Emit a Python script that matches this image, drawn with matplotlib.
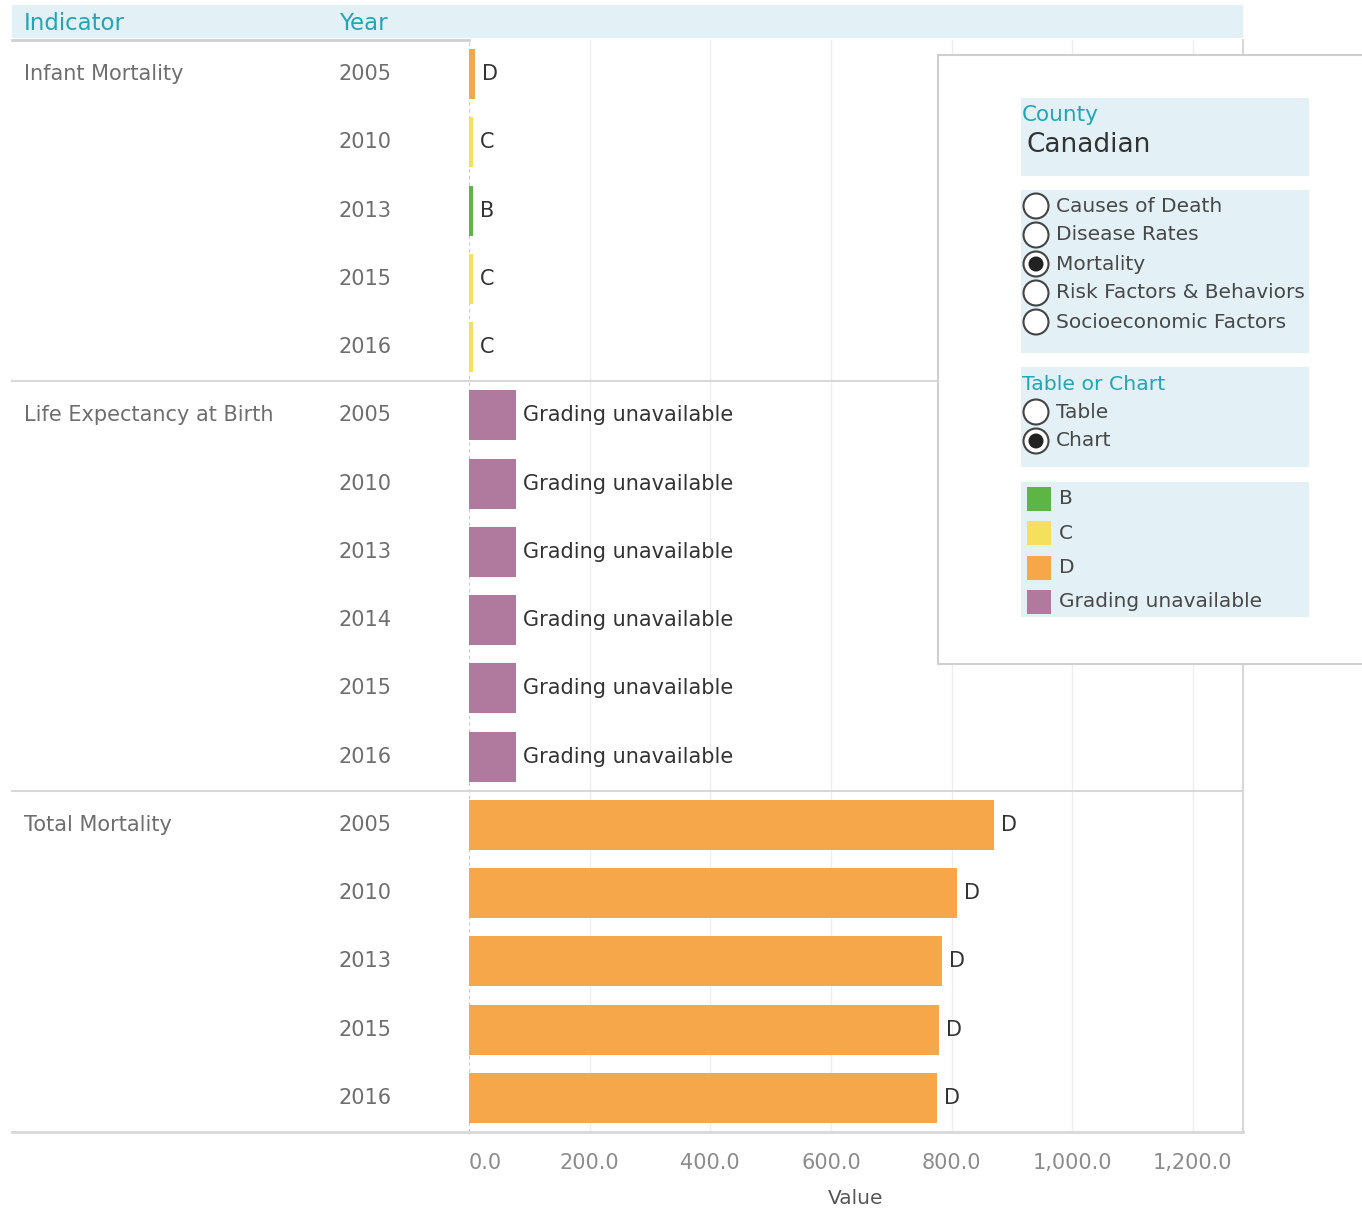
import matplotlib
matplotlib.use("Agg")
import matplotlib.pyplot as plt
import matplotlib.transforms as mtransforms
from matplotlib.patches import Rectangle, Circle
from matplotlib.ticker import FuncFormatter

# data
indicators = ["Infant Mortality", "Life Expectancy at Birth", "Total Mortality"]
years = [
    [2005, 2010, 2013, 2015, 2016],
    [2005, 2010, 2013, 2014, 2015, 2016],
    [2005, 2010, 2013, 2015, 2016],
]
values = [
    [9.6, 6.4, 6.2, 6.4, 6.3],
    [77.9, 77.9, 78.0, 78.1, 78.2, 78.3],
    [870.0, 809.0, 784.0, 779.0, 776.0],
]
grades = [
    ["D", "C", "B", "C", "C"],
    ["Grading unavailable"] * 6,
    ["D"] * 5,
]
grade_colors = {"B": "#5db546", "C": "#f4e05c", "D": "#f6a74a",
                "Grading unavailable": "#b07a9f"}
legend_grades = ["B", "C", "D", "Grading unavailable"]
sections = ["Causes of Death", "Disease Rates", "Mortality",
            "Risk Factors & Behaviors", "Socioeconomic Factors"]
selected_section = "Mortality"
views = ["Table", "Chart"]
selected_view = "Chart"
county = "Canadian"
xticks = [0, 200, 400, 600, 800, 1000, 1200]

W, H = 1362, 1208
TEAL = "#22a5b6"
BAND = "#e3f1f6"
GRAY_TXT = "#6e6e6e"
DARK_TXT = "#333333"
LINE = "#d8d8d8"


def fx(px):
    return px / W


fig = plt.figure(figsize=(W / 100, H / 100), dpi=100)
ax = fig.add_axes([fx(469), 1 - 1132 / H, fx(1243) - fx(469), (1132 - 40) / H])

n_rows = sum(len(y) for y in years)
ax.set_ylim(n_rows - 0.5, -0.5)
ax.set_xlim(0, 1283)

bt = mtransforms.blended_transform_factory(fig.transFigure, ax.transData)
lab_tr = mtransforms.offset_copy(ax.transData, fig=fig, x=7, y=0, units="dots")

row = 0
for gi, name in enumerate(indicators):
    ax.text(fx(24), row, name, transform=bt, ha="left", va="center",
            fontsize=15, color=GRAY_TXT)
    for yr, v, g in zip(years[gi], values[gi], grades[gi]):
        ax.barh(row, v, height=0.73, color=grade_colors[g], zorder=2)
        ax.text(v, row, g, transform=lab_tr, ha="left", va="center",
                fontsize=15, color=DARK_TXT)
        ax.text(fx(339), row, str(yr), transform=bt, ha="left", va="center",
                fontsize=15, color=GRAY_TXT)
        row += 1
    # separator under each group
    ax.plot([fx(12), fx(1243)], [row - 0.5, row - 0.5], transform=bt,
            clip_on=False, color=LINE, lw=2 if gi == len(indicators) - 1 else 1.5)

# header underline on the left part
ax.plot([fx(12), fx(469)], [-0.5, -0.5], transform=bt, clip_on=False,
        color="#cfcfcf", lw=2)

for t in xticks[1:]:
    ax.axvline(t, color="#eeeeee", lw=1, zorder=0)
ax.axvline(0, color="#c8c8c8", lw=0.8, ls=(0, (3, 3)), zorder=1)

for s in ["top", "left", "bottom"]:
    ax.spines[s].set_visible(False)
ax.spines["right"].set_color(LINE)
ax.spines["right"].set_linewidth(1.5)

ax.set_yticks([])
ax.set_xticks(xticks)
ax.xaxis.set_major_formatter(FuncFormatter(lambda v, p: f"{v:,.1f}"))
ax.tick_params(axis="x", length=0, pad=15, labelsize=15, labelcolor="#8c8c8c")
ax.get_xticklabels()[0].set_horizontalalignment("left")
ax.set_xlabel("Value", fontsize=14.5, color="#555555", labelpad=12)

# overlay in pixel coordinates for header band and the side panel
ov = fig.add_axes([0, 0, 1, 1], zorder=10)
ov.set_xlim(0, W)
ov.set_ylim(H, 0)
ov.axis("off")
ov.patch.set_visible(False)

ov.add_patch(Rectangle((12, 5), 1231, 33, facecolor=BAND, edgecolor="none"))
ov.text(24, 24, "Indicator", fontsize=16.5, color=TEAL, va="center")
ov.text(339, 24, "Year", fontsize=16.5, color=TEAL, va="center")

ov.add_patch(Rectangle((938, 55), 450, 609, facecolor="white",
                       edgecolor="#cfcfcf", lw=1.5))
ov.add_patch(Rectangle((1021, 98), 288, 78, facecolor=BAND, edgecolor="none"))
ov.text(1022, 115, "County", fontsize=15.5, color=TEAL, va="center")
ov.text(1026, 145, county, fontsize=19, color=DARK_TXT, va="center")


def radio(y, label, on):
    ov.add_patch(Circle((1036, y), 12.5, facecolor="white", edgecolor="#444444", lw=1.5))
    if on:
        ov.add_patch(Circle((1036, y), 7.5, facecolor="#222222", edgecolor="none"))
    ov.text(1056, y, label, fontsize=14.5, color="#484848", va="center")


ov.add_patch(Rectangle((1021, 190), 288, 163, facecolor=BAND, edgecolor="none"))
for i, s in enumerate(sections):
    radio(206 + 29 * i, s, s == selected_section)

ov.add_patch(Rectangle((1021, 367), 288, 100, facecolor=BAND, edgecolor="none"))
ov.text(1022, 384, "Table or Chart", fontsize=14.7, color=TEAL, va="center")
for i, v in enumerate(views):
    radio(412 + 29 * i, v, v == selected_view)

ov.add_patch(Rectangle((1021, 482), 288, 135, facecolor=BAND, edgecolor="none"))
for i, g in enumerate(legend_grades):
    yc = 499 + 34.3 * i
    ov.add_patch(Rectangle((1027, yc - 12), 24, 24, facecolor=grade_colors[g],
                           edgecolor="none"))
    ov.text(1059, yc, g, fontsize=14.5, color="#484848", va="center")

fig.savefig("out.png", dpi=100, facecolor="white")
